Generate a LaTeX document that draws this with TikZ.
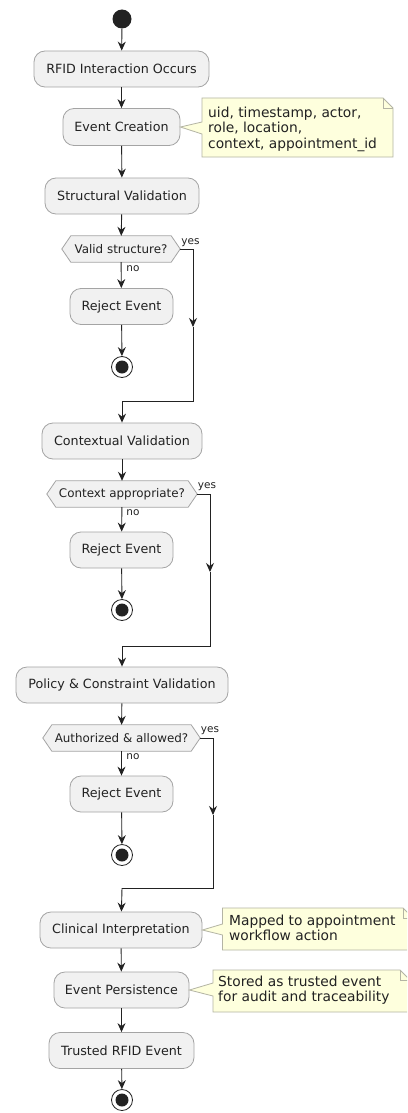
\documentclass[tikz,border=0pt]{standalone}
\usepackage{fontspec}
\setmainfont{DejaVu Sans}
\usetikzlibrary{arrows.meta}
\definecolor{boxfill}{HTML}{F1F1F1}
\definecolor{boxline}{HTML}{A4A4A4}
\definecolor{notefill}{HTML}{FEFFDD}
\definecolor{noteline}{HTML}{B4B4A4}
\definecolor{ink}{HTML}{222222}
\pgfdeclarelayer{bg}
\pgfsetlayers{bg,main}
\begin{document}
\begin{tikzpicture}[x=1pt,y=-1pt,
  act/.style={draw=boxline, fill=boxfill, rounded corners=11pt, line width=0.8pt,
    minimum height=36pt, inner sep=0pt, font=\fontsize{12.7}{14}\selectfont, text=ink},
  dec/.style={minimum height=26pt, inner sep=0pt, font=\fontsize{11.9}{13}\selectfont, text=ink},
  decshape/.style={draw=boxline, fill=boxfill, line width=0.8pt},
  flow/.style={draw=ink, line width=0.9pt, -{Stealth[length=9pt,width=8pt,inset=3pt]}},
  plain/.style={draw=ink, line width=0.9pt},
  lbl/.style={font=\fontsize{10.5}{12}\selectfont, text=ink, inner sep=0pt},
  notebody/.style={draw=noteline, fill=notefill, line width=0.8pt, line join=miter},
  notetext/.style={font=\fontsize{13.8}{15.5}\selectfont, text=ink, align=left, inner sep=0pt, anchor=north west},
  startc/.style={circle, fill=ink, minimum size=19pt, inner sep=0pt},
  endc/.style={circle, draw=ink, fill=white, line width=0.8pt, minimum size=21pt, inner sep=0pt,
    path picture={\fill[ink] (path picture bounding box.center) circle (6.5pt);}}
]
\useasboundingbox (0,0) rectangle (407,1113);
\clip (0,0) rectangle (407,1113);

% nodes
\node[startc] (st) at (122,19) {};
\node[act, minimum width=175pt] (rfid) at (121.5,69) {RFID Interaction Occurs};
\node[act, minimum width=117pt, minimum height=37pt] (ec) at (121.5,127) {Event Creation};
\node[act, minimum width=154pt] (sv) at (122,196) {Structural Validation};
\node[dec, minimum width=118pt] (d1) at (121,249) {Valid structure?};
\node[act, minimum width=103pt] (r1) at (121.5,306.5) {Reject Event};
\node[endc] (e1) at (122,367) {};

\node[act, minimum width=160pt] (cv) at (122,441) {Contextual Validation};
\node[dec, minimum width=150pt] (d2) at (122,494) {Context appropriate?};
\node[act, minimum width=103pt] (r2) at (121.5,550) {Reject Event};
\node[endc] (e2) at (122,610) {};

\node[act, minimum width=212pt] (pv) at (122,685) {Policy \& Constraint Validation};
\node[dec, minimum width=157pt] (d3) at (121.5,738) {Authorized \& allowed?};
\node[act, minimum width=103pt] (r3) at (121.5,794) {Reject Event};
\node[endc] (e3) at (122,855) {};

\node[act, minimum width=162pt] (ci) at (121,930) {Clinical Interpretation};
\node[act, minimum width=135pt] (ep) at (121.5,990) {Event Persistence};
\node[act, minimum width=145pt] (tr) at (121.5,1050.5) {Trusted RFID Event};
\node[endc] (e4) at (122,1100) {};

% background and hexagons
\begin{pgfonlayer}{bg}
\fill[white] (0,0) rectangle (407,1113);
\foreach \d in {d1,d2,d3}{
  \draw[decshape] (\d.west) -- ([xshift=9pt]\d.north west) -- ([xshift=-9pt]\d.north east)
    -- (\d.east) -- ([xshift=-9pt]\d.south east) -- ([xshift=9pt]\d.south west) -- cycle;
}
\end{pgfonlayer}

% notes
\draw[notebody] (202,98) -- (383,98) -- (393,108) -- (393,157) -- (202,157) -- (202,134)
  -- (ec.east) -- (202,122) -- cycle;
\draw[notebody, fill=none] (383,98) -- (383,108) -- (393,108);
\node[notetext] (n1) at (208,106.5) {uid, timestamp, actor,\\role, location,\\context, appointment\_id};

\draw[notebody] (222.5,908) -- (403,908) -- (413,918) -- (413,950) -- (222.5,950) -- (222.5,935)
  -- (ci.east) -- (222.5,924) -- cycle;
\draw[notebody, fill=none] (403,908) -- (403,918) -- (413,918);
\node[notetext] (n2) at (229,914.5) {Mapped to appointment\\workflow action};

\draw[notebody] (213,970) -- (400,970) -- (410,980) -- (410,1012) -- (213,1012) -- (213,996)
  -- (ep.east) -- (213,983) -- cycle;
\draw[notebody, fill=none] (400,970) -- (400,980) -- (410,980);
\node[notetext] (n3) at (218,975.5) {Stored as trusted event\\for audit and traceability};

% flow
\draw[flow] (st) -- (rfid);
\draw[flow] (rfid) -- (ec);
\draw[flow] (ec) -- (sv);
\draw[flow] (sv) -- (d1);
\draw[flow] (d1) -- (r1);
\draw[flow] (r1) -- (e1);
\coordinate (y1) at (193,327);
\coordinate (m1) at (122,401);
\draw[flow] (d1.east) -| (y1);
\draw[plain] (y1) |- (m1);
\draw[flow] (m1) -- (cv);
\node[lbl] at (190.5,243) {yes};
\node[lbl] at (133,269) {no};

\draw[flow] (cv) -- (d2);
\draw[flow] (d2) -- (r2);
\draw[flow] (r2) -- (e2);
\coordinate (y2) at (210,572);
\coordinate (m2) at (122,646);
\draw[flow] (d2.east) -| (y2);
\draw[plain] (y2) |- (m2);
\draw[flow] (m2) -- (pv);
\node[lbl] at (207,487) {yes};
\node[lbl] at (133,513) {no};

\draw[flow] (pv) -- (d3);
\draw[flow] (d3) -- (r3);
\draw[flow] (r3) -- (e3);
\coordinate (y3) at (213,815);
\coordinate (m3) at (122,888);
\draw[flow] (d3.east) -| (y3);
\draw[plain] (y3) |- (m3);
\draw[flow] (m3) -- (ci);
\node[lbl] at (210,731) {yes};
\node[lbl] at (133,757) {no};

\draw[flow] (ci) -- (ep);
\draw[flow] (ep) -- (tr);
\draw[flow] (tr) -- (e4);
\end{tikzpicture}
\end{document}
